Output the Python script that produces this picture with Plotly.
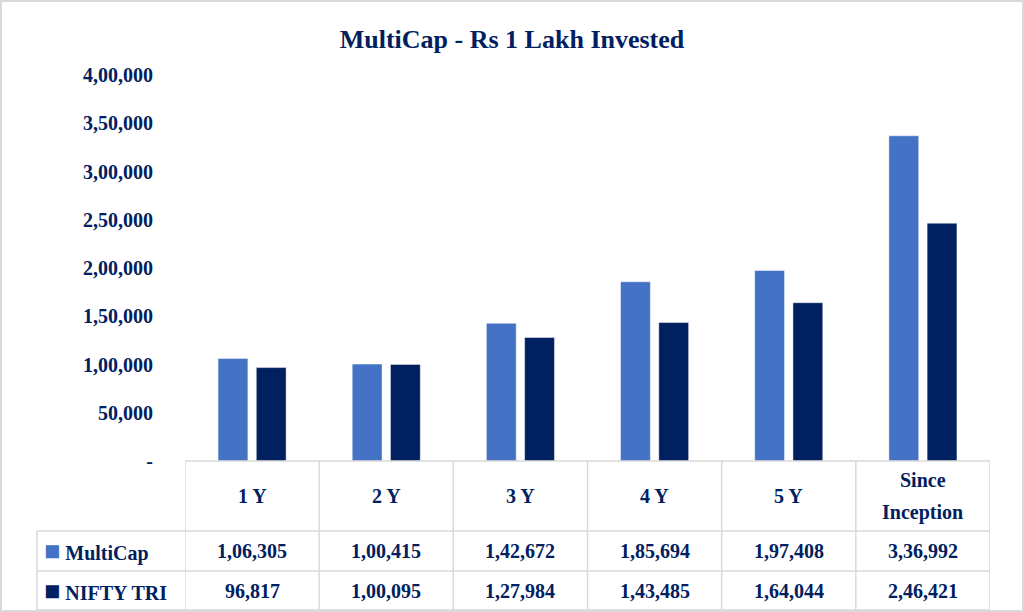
import plotly.graph_objects as go

categories = ["1 Y", "2 Y", "3 Y", "4 Y", "5 Y", "Since<br>Inception"]
multicap = [106305, 100415, 142672, 185694, 197408, 336992]
nifty_tri = [96817, 100095, 127984, 143485, 164044, 246421]
tick_vals = [0, 50000, 100000, 150000, 200000, 250000, 300000, 350000, 400000]

NAVY = "#002060"
BLUE = "#4472C4"
GRID = "#d9d9d9"
FONT = "Liberation Serif"


def inr(v):
    # indian digit grouping, e.g. 1,06,305
    s = str(int(v))
    if len(s) <= 3:
        return s
    head, tail = s[:-3], s[-3:]
    parts = []
    while len(head) > 2:
        parts.insert(0, head[-2:])
        head = head[:-2]
    if head:
        parts.insert(0, head)
    return ",".join(parts) + "," + tail


W, H = 1024, 612


def py(pix):
    return 1 - pix / H


xs = list(range(len(categories)))

fig = go.Figure()
fig.add_trace(go.Bar(x=xs, y=multicap, name="MultiCap", marker_color=BLUE,
                     marker_line=dict(color="rgba(255,255,255,0.45)", width=1)))
fig.add_trace(go.Bar(x=xs, y=nifty_tri, name="NIFTY TRI", marker_color=NAVY,
                     marker_line=dict(color="rgba(255,255,255,0.45)", width=1)))

ticktext = ["-" if v == 0 else inr(v) for v in tick_vals]

fig.update_layout(
    width=W, height=H,
    margin=dict(l=0, r=0, t=0, b=0, pad=0, autoexpand=False),
    paper_bgcolor="white", plot_bgcolor="white",
    showlegend=False,
    barmode="group", bargap=0.43, bargroupgap=0.22,
    font=dict(family=FONT, color=NAVY),
    title=dict(text="<b>MultiCap - Rs 1 Lakh Invested</b>", x=0.5, xanchor="center",
               y=py(39), yanchor="middle", automargin=False,
               font=dict(size=26, color=NAVY, family=FONT)),
    xaxis=dict(domain=[185 / W, 990 / W], range=[-0.5, len(categories) - 0.5],
               automargin=False, fixedrange=True,
               showticklabels=False, showgrid=False, zeroline=False, showline=False),
    yaxis=dict(domain=[py(461), py(75)], range=[0, 400000], tickvals=tick_vals,
               automargin=False, fixedrange=True,
               ticktext=ticktext, showgrid=False, zeroline=False, showline=False,
               ticklabelstandoff=31,
               tickfont=dict(size=20, color=NAVY, family=FONT, weight="bold")),
)

shapes = []
# outer border
shapes.append(dict(type="rect", xref="paper", yref="paper", x0=1 / W, x1=1 - 1 / W,
                   y0=1 / H, y1=1 - 1 / H, line=dict(color=GRID, width=2)))
# table column lines
for i in range(len(categories) + 1):
    shapes.append(dict(type="line", xref="x", yref="paper", x0=i - 0.5, x1=i - 0.5,
                       y0=py(610), y1=py(461), line=dict(color=GRID, width=1.5)))
shapes.append(dict(type="line", xref="paper", yref="paper", x0=37 / W, x1=37 / W,
                   y0=py(610), y1=py(531), line=dict(color=GRID, width=1.5)))
# table row lines
shapes.append(dict(type="line", xref="x", yref="paper", x0=-0.5, x1=len(categories) - 0.5,
                   y0=py(461), y1=py(461), line=dict(color=GRID, width=1.5)))
for yy in [531, 571, 610]:
    shapes.append(dict(type="line", xref="paper", yref="paper", x0=37 / W, x1=990 / W,
                       y0=py(yy), y1=py(yy), line=dict(color=GRID, width=1.5)))
fig.update_layout(shapes=shapes)

cell_font = dict(size=20, color=NAVY, family=FONT)
anns = []
for i, c in enumerate(categories):
    lines = c.split("<br>")
    for k, ln in enumerate(lines):
        yy = 496 + (k - (len(lines) - 1) / 2) * 32
        anns.append(dict(x=i, y=py(yy), xref="x", yref="paper", text="<b>%s</b>" % ln,
                         xanchor="center", yanchor="middle", showarrow=False, font=cell_font))
    anns.append(dict(x=i, y=py(551), xref="x", yref="paper", text="<b>%s</b>" % inr(multicap[i]),
                     xanchor="center", yanchor="middle", showarrow=False, font=cell_font))
    anns.append(dict(x=i, y=py(591), xref="x", yref="paper", text="<b>%s</b>" % inr(nifty_tri[i]),
                     xanchor="center", yanchor="middle", showarrow=False, font=cell_font))
for name, col, yy in [("MultiCap", BLUE, 551), ("NIFTY TRI", NAVY, 591)]:
    anns.append(dict(x=42 / W, y=py(yy), xref="paper", yref="paper", xanchor="left",
                     yanchor="middle",
                     text="<span style='color:%s;font-size:27px'>■</span> <b>%s</b>" % (col, name),
                     showarrow=False, font=cell_font))
fig.update_layout(annotations=anns)

fig.write_html("out.html", config={"displayModeBar": False},
               post_script="document.body.style.margin='0';")
